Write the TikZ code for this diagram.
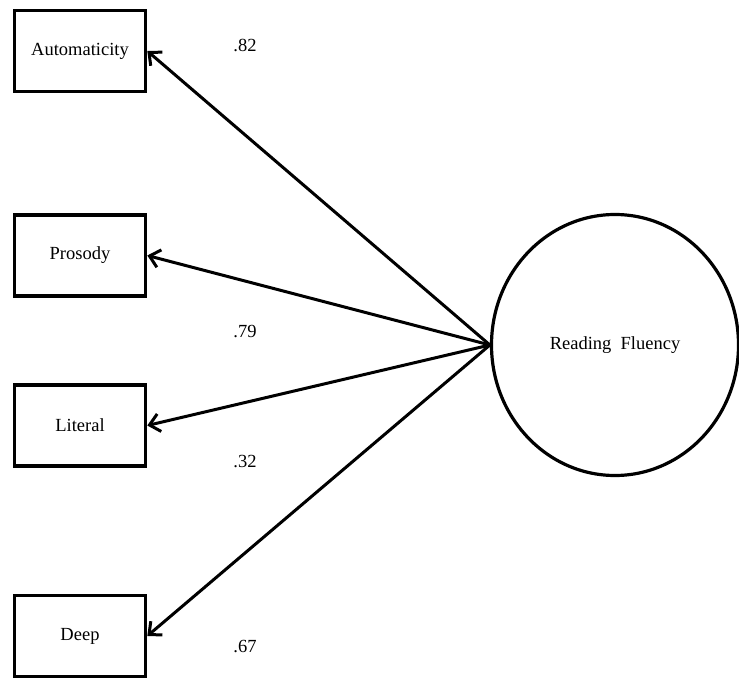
\documentclass[tikz,border=0pt]{standalone}
\usepackage{fontspec}
\setmainfont{Liberation Serif}
\usetikzlibrary{arrows,arrows.meta,positioning,shapes}

\begin{document}
\begin{tikzpicture}[x=1pt,y=-1pt,font=\fontsize{18.5}{22}\selectfont,
  >={Straight Barb[length=10pt,width=18pt]}]

\tikzstyle{observed}=[draw=black,line width=3.6pt,minimum width=131pt,minimum height=81pt,inner sep=0pt]
\tikzstyle{latent}=[draw=black,line width=3.2pt,ellipse,minimum width=247pt,minimum height=261pt,inner sep=0pt]
\tikzstyle{loading}=[inner sep=0pt]

\useasboundingbox (0,0) rectangle (739,679);

\node [observed] (Auto) at (80,51) {Automaticity};
\node [observed] (Pros) at (80,255.5) {Prosody};
\node [observed] (Lit) at (80,425.5) {Literal};
\node [observed] (Deep) at (80,636) {Deep};

\node [latent] (RF) at (615,345) {Reading\ \ Fluency};

\node [loading] (l82) at (245,45) {.82};
\node [loading] (l79) at (245,332) {.79};
\node [loading] (l32) at (245,462) {.32};
\node [loading] (l67) at (245,647) {.67};

\path [->,line width=3pt] (RF.west) edge (Auto.east)
      [->,line width=3pt] (RF.west) edge (Pros.east)
      [->,line width=3pt] (RF.west) edge (Lit.east)
      [->,line width=3pt] (RF.west) edge (Deep.east);

\end{tikzpicture}
\end{document}
